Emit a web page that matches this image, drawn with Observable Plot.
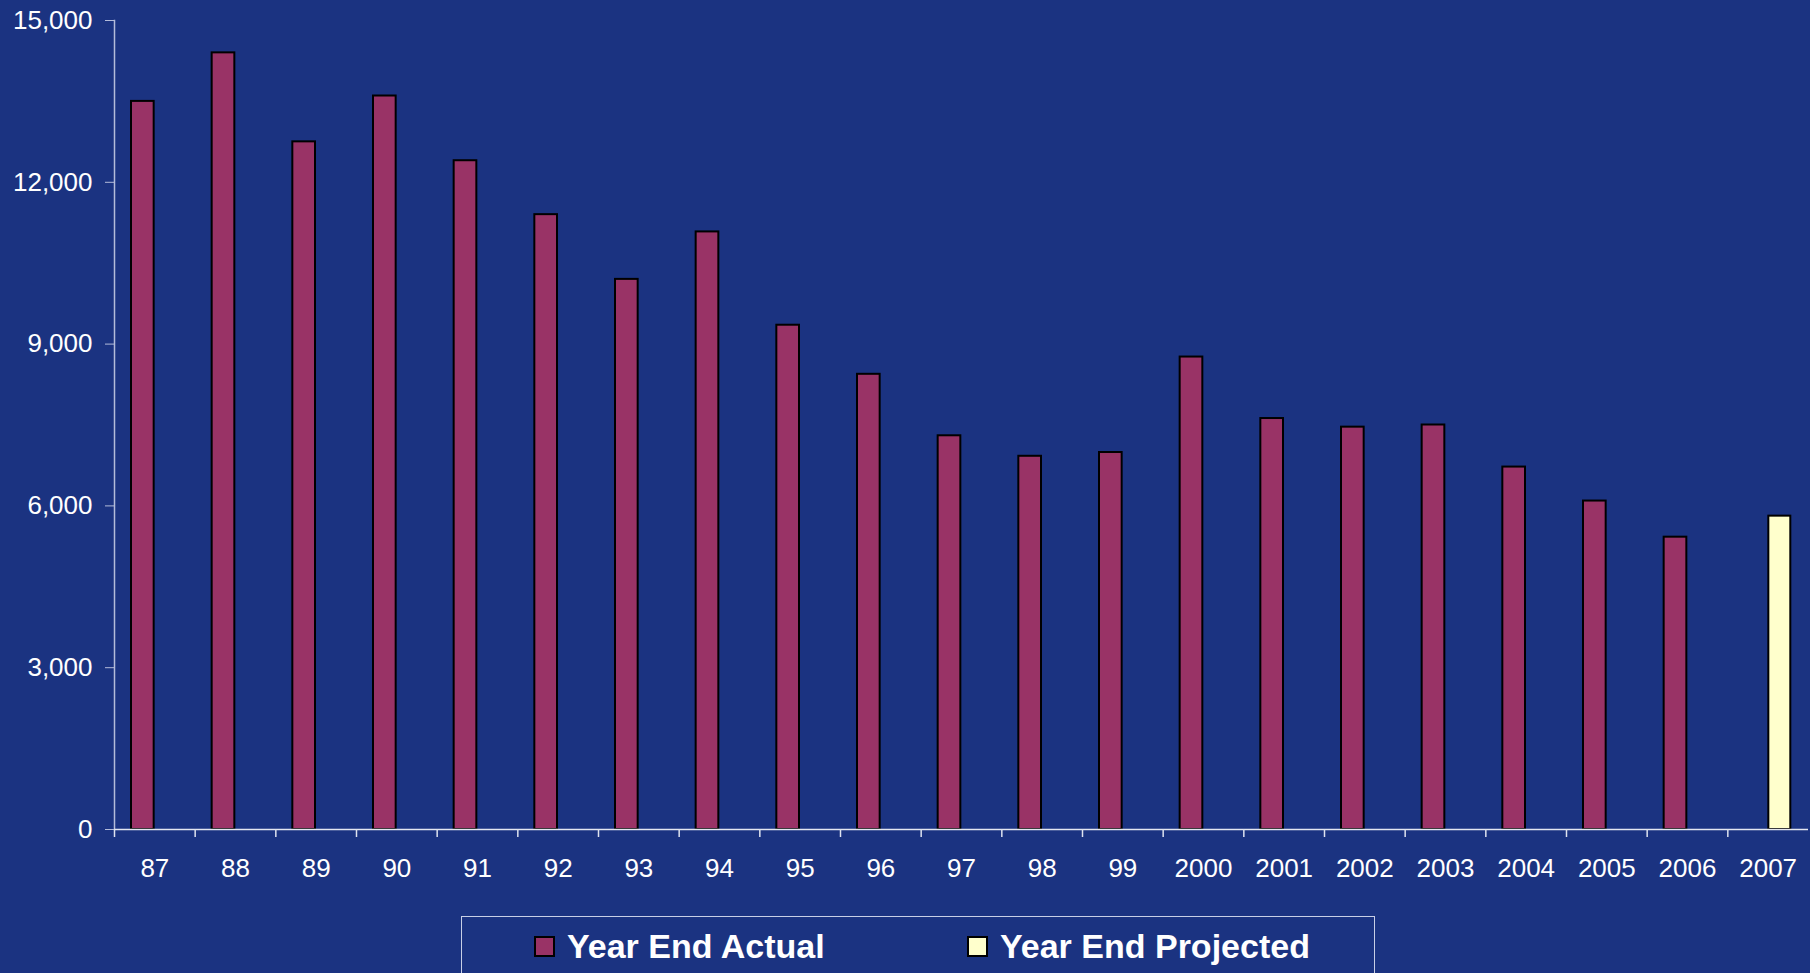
<!DOCTYPE html>
<html><head><meta charset="utf-8">
<script src="https://cdn.jsdelivr.net/npm/d3@7"></script>
<script src="https://cdn.jsdelivr.net/npm/@observablehq/plot@0.6"></script>
<style>
html,body{margin:0;padding:0;background:#1b3381;overflow:hidden;}
#wrap{position:relative;width:1810px;height:973px;font-family:"Liberation Sans",Arial,sans-serif;}
#chart svg{display:block;}
#legend{position:absolute;left:461px;top:916px;width:914px;height:70px;border:1.5px solid #c8cfe6;box-sizing:border-box;}
.sw{position:absolute;top:19px;width:21px;height:21px;border:2px solid #000;box-sizing:border-box;}
.lt{position:absolute;top:12px;font-size:34px;font-weight:bold;color:#fff;line-height:34px;white-space:nowrap;}
</style></head>
<body>
<div id="wrap">
  <div id="chart"></div>
  <div id="legend">
    <div class="sw" style="left:72px;background:#993366"></div>
    <div class="lt" style="left:105px">Year End Actual</div>
    <div class="sw" style="left:505px;background:#ffffcc"></div>
    <div class="lt" style="left:538px">Year End Projected</div>
  </div>
</div>
<script>
// Data
const years = ["87","88","89","90","91","92","93","94","95","96","97","98","99","2000","2001","2002","2003","2004","2005","2006","2007"];
const actualYears = years.slice(0, 20);
const actualValues = [13500, 14400, 12750, 13600, 12400, 11400, 10200, 11080, 9350, 8440, 7300, 6920, 6990, 8760, 7620, 7460, 7500, 6720, 6090, 5420];
const projectedYears = ["2007"];
const projectedValues = [5810];
const yTicks = [0, 3000, 6000, 9000, 12000, 15000];

const actualRows = actualYears.map((y, i) => ({year: y, value: actualValues[i]}));
const projectedRows = projectedYears.map((y, i) => ({year: y, value: projectedValues[i]}));

const W = 1810, H = 905, mL = 114, mR = 2;
const bw = (W - mL - mR) / years.length;

const chart = Plot.plot({
  width: W, height: H,
  marginLeft: mL, marginRight: mR, marginTop: 20, marginBottom: 76,
  style: {background: "transparent", color: "#ffffff", fontFamily: "'Liberation Sans', Arial, sans-serif", fontSize: "26px"},
  x: {type: "band", domain: years, padding: 0, round: false, axis: null, label: null},
  y: {domain: [0, 15000], axis: null, label: null},
  marks: [
    Plot.barY(actualRows, {x: "year", y: "value", fill: "#993366", stroke: "#000000", strokeWidth: 2, insetLeft: 17, insetRight: 41}),
    Plot.barY(projectedRows, {x: "year", y: "value", fill: "#ffffcc", stroke: "#000000", strokeWidth: 2, insetLeft: 41, insetRight: 17.7}),
    Plot.frame({anchor: "left", stroke: "#b4bcda", strokeWidth: 1.5}),
    Plot.ruleY([0], {stroke: "#e4e7f1", strokeWidth: 1.5}),
    Plot.ruleX(years, {x: d => d, dx: -bw / 2, y1: 0, y2: 0, insetBottom: -8, stroke: "#dfe3ef", strokeWidth: 1.5}),
    Plot.axisY({ticks: yTicks, tickFormat: d3.format(","), tickSize: 9, tickPadding: 13, stroke: "#b4bcda", fill: "#ffffff", fontSize: 26, label: null}),
    Plot.axisX({tickSize: 0, tickPadding: 29, fill: "#ffffff", fontSize: 26, label: null})
  ]
});
document.getElementById("chart").appendChild(chart);
</script>
</body></html>
